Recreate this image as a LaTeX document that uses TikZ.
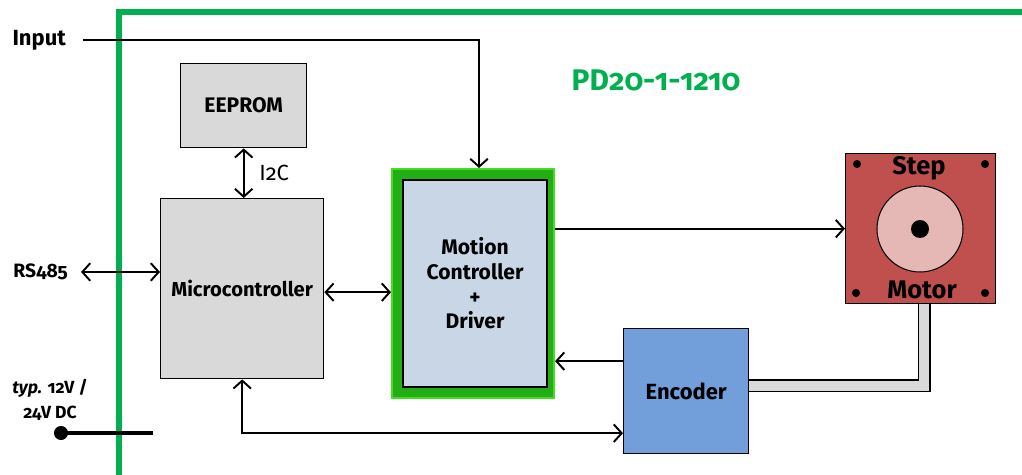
\documentclass[tikz,border=0pt]{standalone}
\usepackage{fontspec}
\setmainfont{Fira Sans}[Numbers=OldStyle]
\usetikzlibrary{arrows.meta}

\definecolor{framegreen}{HTML}{00B050}
\definecolor{mcgreen}{HTML}{22AE14}
\definecolor{mclight}{HTML}{44DD22}
\definecolor{mcblue}{HTML}{C9D6E6}
\definecolor{boxgrey}{HTML}{D9D9D9}
\definecolor{motorred}{HTML}{C0504D}
\definecolor{discpink}{HTML}{E5B8B5}
\definecolor{encblue}{HTML}{729FDA}

\begin{document}
\begin{tikzpicture}[x=0.02cm, y=-0.02cm, font=\bfseries\fontsize{12}{14}\selectfont,
    block/.style={draw, line width=0.8pt, anchor=north west, inner sep=0pt, align=center},
    link/.style={line width=1.1pt, -{Straight Barb[length=4.5pt, width=10pt]}},
    dlink/.style={line width=1.1pt, {Straight Barb[length=4.5pt, width=10pt]}-{Straight Barb[length=4.5pt, width=10pt]}}]
    \useasboundingbox (0,0) rectangle (1022,475);

    % board outline
    \draw[framegreen, line width=3.4pt] (119,475) -- (119,12) -- (1022,12);
    \node[text=framegreen, font=\bfseries\fontsize{17}{19}\selectfont] (board) at (656,80) {PD20-1-1210};

    % blocks
    \node[block, fill=boxgrey, minimum width=2.52cm, minimum height=1.68cm] (eeprom) at (180,63) {EEPROM};
    \node[block, fill=boxgrey, minimum width=3.26cm, minimum height=3.6cm, font=\bfseries\fontsize{11.5}{14}\selectfont] (micro) at (160,198) {Microcontroller};
    \node[block, fill=mcgreen, draw=mclight, line width=1.2pt, minimum width=3.24cm, minimum height=4.58cm] (mcout) at (391,168) {};
    \node[block, fill=mcblue, anchor=center, minimum width=2.88cm, minimum height=4.14cm] (mc) at ([xshift=0.04cm]mcout.center) {Motion\\Controller\\+\\Driver};
    \node[block, fill=encblue, minimum width=2.5cm, minimum height=2.5cm, font=\bfseries\fontsize{12.5}{14}\selectfont] (encoder) at (623,328) {Encoder};

    % step motor
    \node[block, fill=motorred, minimum width=3cm, minimum height=3cm] (motor) at (845,153) {};
    \node[circle, draw, line width=0.6pt, fill=discpink, minimum size=1.72cm] (disc) at (920,229) {};
    \node[circle, fill, minimum size=0.36cm, inner sep=0pt] (hub) at (disc.center) {};
    \foreach \p in {(857,164), (985,164), (856,293), (985,293)}
        \fill \p circle (2.3pt);
    \node[font=\bfseries\fontsize{14.5}{16}\selectfont] (step) at (919,168) {Step};
    \node[font=\bfseries\fontsize{14.5}{16}\selectfont] (motorlbl) at (922,290) {Motor};

    % outside labels
    \node[anchor=east, font=\bfseries\fontsize{12.5}{14}\selectfont] (input) at (72,40) {Input};
    \node[anchor=east, font=\bfseries\fontsize{11}{14}\selectfont] (rs) at (74,272) {RS485};
    \node[align=center, font=\bfseries\fontsize{10}{14}\selectfont] (supply) at (50,400) {\textit{typ.} 12V /\\24V DC};
    \node[circle, fill, minimum size=8pt, inner sep=0pt] (plug) at (61,433) {};
    \coordinate (cut) at (153,433);
    \coordinate (shaft) at (924,386);

    % connections
    \draw[link] ([xshift=6pt]input.east) -| ([xshift=0.12cm]mcout.north);
    \draw[dlink] (eeprom.south) -- (eeprom.south |- micro.north) node[midway, right=5pt, font=\fontsize{12.5}{14}\selectfont] {I2C};
    \draw[dlink] ([xshift=4pt]rs.east) -- (rs.east -| micro.west);
    \draw[dlink] ([yshift=-2pt]micro.east) -- ([yshift=-2pt]micro.east -| mcout.west);
    \draw[link] (motor.west -| mcout.east) -- (motor.west);
    \draw[link] ([yshift=0.6cm]encoder.west) -- ([yshift=0.6cm]encoder.west -| mcout.east);
    \draw[dlink] (micro.south) |- ([yshift=-0.84cm]encoder.west);
    \draw[double=boxgrey, double distance=5.6pt, line width=0.9pt] (motor.south -| shaft) -- (shaft) -- (shaft -| encoder.east);
    \draw[line width=2.3pt] (plug.center) -- (cut);
\end{tikzpicture}
\end{document}
